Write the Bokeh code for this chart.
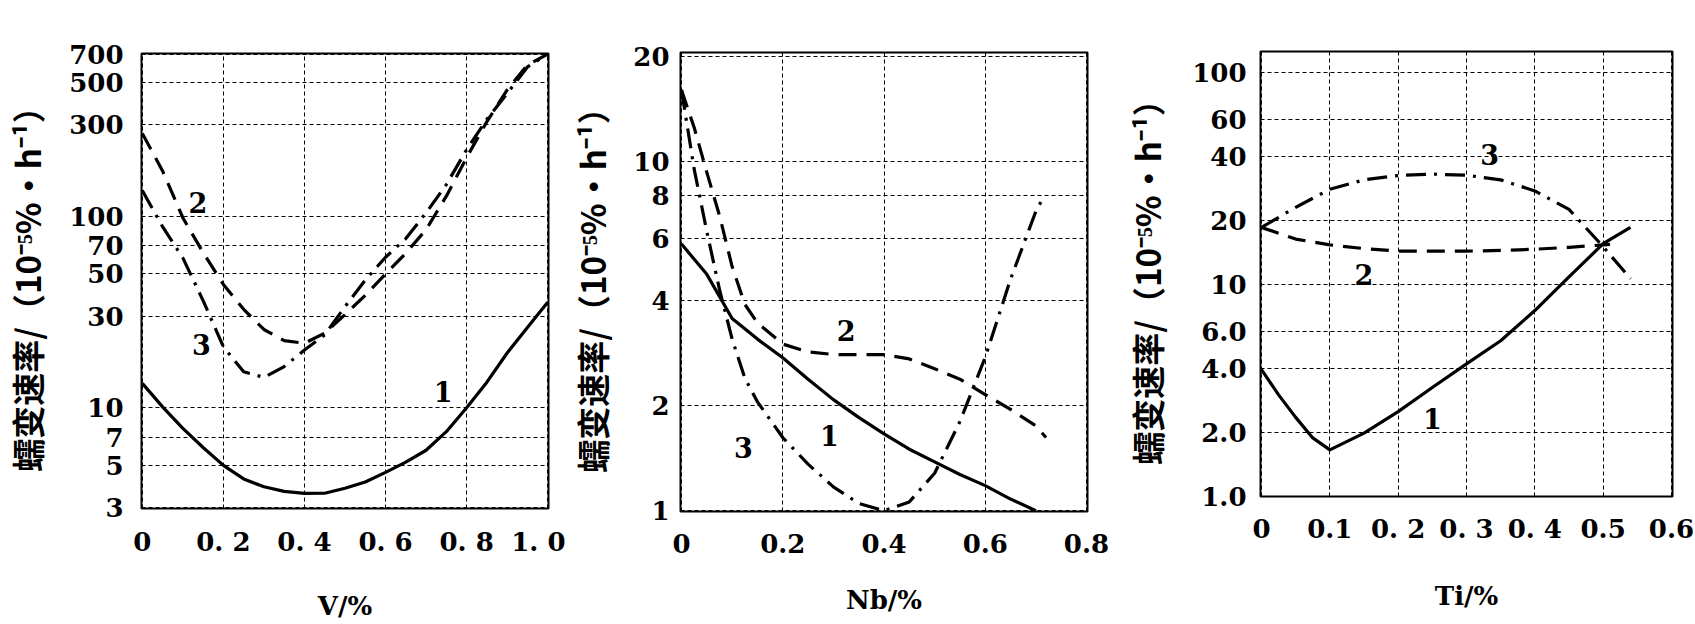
from bokeh.plotting import figure
from bokeh.layouts import row
from bokeh.models import Range1d, FixedTicker
from bokeh.embed import file_html
from bokeh.resources import INLINE
from bokeh.core.properties import value

# ---------------- Panel 1: V ----------------
v_x = [0, 0.05, 0.1, 0.15, 0.2, 0.25, 0.3, 0.35, 0.4, 0.45, 0.5,
       0.55, 0.6, 0.65, 0.7, 0.75, 0.8, 0.85, 0.9, 0.95, 1.0]
v_c1 = [13.4, 10.1, 7.8, 6.2, 5.0, 4.25, 3.87, 3.66, 3.57, 3.58, 3.8,
        4.1, 4.6, 5.2, 6.0, 7.5, 10.0, 13.6, 19.3, 26.2, 35.5]
v_c2 = [270, 172, 98, 64.5, 44, 32.6, 25.6, 22.4, 21.7, 24.5, 30.6,
        38.6, 49.9, 64, 85, 127, 202, 311, 455, 614, 700]
v_c3 = [136, 88, 60.5, 36.2, 20.8, 15.4, 14.4, 16.4, 20, 24, 33.7,
        46.3, 61, 76.3, 104, 146, 222, 320, 436, 600, 700]
v_xticks = [0, 0.2, 0.4, 0.6, 0.8, 1.0]
v_xlabels = ["0", "0. 2", "0. 4", "0. 6", "0. 8", "1. 0"]
v_yticks = [3, 5, 7, 10, 30, 50, 70, 100, 300, 500, 700]
v_ylabels = ["3", "5", "7", "10", "30", "50", "70", "100", "300", "500", "700"]
v_lab_text = ["1", "2", "3"]
v_lab_x = [0.742, 0.137, 0.146]
v_lab_y = [12.2, 117, 21.3]

# ---------------- Panel 2: Nb ----------------
nb_x1 = [0, 0.05, 0.1, 0.15, 0.2, 0.25, 0.3, 0.35, 0.4, 0.45, 0.5, 0.55, 0.6, 0.65, 0.7]
nb_c1 = [5.8, 4.75, 3.55, 3.1, 2.74, 2.38, 2.08, 1.85, 1.66, 1.5, 1.38, 1.27, 1.18, 1.08, 1.0]
nb_x2 = [0, 0.025, 0.05, 0.075, 0.1, 0.125, 0.15, 0.2, 0.25, 0.3, 0.35, 0.4,
         0.45, 0.5, 0.55, 0.6, 0.65, 0.7, 0.72]
nb_c2 = [16, 12.5, 9.3, 7.0, 5.0, 3.9, 3.45, 3.0, 2.85, 2.8, 2.8, 2.8,
         2.72, 2.55, 2.38, 2.15, 1.95, 1.75, 1.62]
nb_x3 = [0, 0.025, 0.05, 0.075, 0.1, 0.125, 0.15, 0.2, 0.25, 0.3, 0.35, 0.4,
         0.45, 0.5, 0.55, 0.6, 0.65, 0.7, 0.715]
nb_c3 = [16, 9.5, 6.3, 4.3, 3.1, 2.4, 2.05, 1.62, 1.36, 1.17, 1.05, 1.0,
         1.06, 1.28, 1.8, 2.75, 4.6, 7.2, 7.9]
nb_xticks = [0, 0.2, 0.4, 0.6, 0.8]
nb_xlabels = ["0", "0.2", "0.4", "0.6", "0.8"]
nb_yticks = [1, 2, 4, 6, 8, 10, 20]
nb_ylabels = ["1", "2", "4", "6", "8", "10", "20"]
nb_lab_text = ["1", "2", "3"]
nb_lab_x = [0.292, 0.325, 0.122]
nb_lab_y = [1.64, 3.27, 1.52]

# ---------------- Panel 3: Ti ----------------
ti_x1 = [0, 0.025, 0.05, 0.075, 0.1, 0.15, 0.2, 0.25, 0.3, 0.35, 0.4, 0.45, 0.5, 0.54]
ti_c1 = [3.95, 3.0, 2.35, 1.88, 1.65, 1.98, 2.5, 3.25, 4.2, 5.4, 7.5, 10.8, 15.5, 18.5]
ti_x2 = [0, 0.05, 0.1, 0.15, 0.2, 0.25, 0.3, 0.35, 0.4, 0.45, 0.5, 0.51]
ti_c2 = [18.5, 16.3, 15.3, 14.7, 14.3, 14.3, 14.3, 14.4, 14.6, 14.9, 15.3, 15.4]
ti_x3 = [0, 0.05, 0.1, 0.15, 0.2, 0.25, 0.3, 0.35, 0.4, 0.45, 0.5, 0.54]
ti_c3 = [18.5, 23, 28, 31, 32.5, 33, 32.6, 31, 27.5, 22.5, 15, 10.6]
ti_xticks = [0, 0.1, 0.2, 0.3, 0.4, 0.5, 0.6]
ti_xlabels = ["0", "0.1", "0. 2", "0. 3", "0. 4", "0.5", "0.6"]
ti_yticks = [1, 2, 4, 6, 10, 20, 40, 60, 100]
ti_ylabels = ["1.0", "2.0", "4.0", "6.0", "10", "20", "40", "60", "100"]
ti_lab_text = ["1", "2", "3"]
ti_lab_x = [0.25, 0.15, 0.334]
ti_lab_y = [2.32, 11.1, 41]

Y_TITLE = "蠕变速率/（10⁻⁵%·h⁻¹）"
NUM_FONT = "DejaVu Serif"
CJK_FONT = "Noto Sans CJK SC"


def panel(width, xr, yr, borders, xticks, xlabels, yticks, ylabels, xtitle,
          series, labs, stand):
    bl, br, bt, bb = borders
    p = figure(width=width, height=624, y_axis_type="log",
               x_range=Range1d(*xr), y_range=Range1d(*yr),
               output_backend="svg", toolbar_location=None,
               min_border_left=bl, min_border_right=br,
               min_border_top=bt, min_border_bottom=bb)
    try:
        p.frame_align = False   # keep each panel's own frame position
    except Exception:
        pass
    p.background_fill_color = "white"
    p.border_fill_color = "white"
    p.outline_line_color = "black"
    p.outline_line_width = 2
    p.outline_line_alpha = 1.0

    p.xaxis.ticker = FixedTicker(ticks=xticks)
    p.yaxis.ticker = FixedTicker(ticks=yticks)
    p.xaxis.major_label_overrides = {t: l for t, l in zip(xticks, xlabels)}
    p.yaxis.major_label_overrides = {t: l for t, l in zip(yticks, ylabels)}
    for ax in (p.xaxis[0], p.yaxis[0]):
        ax.axis_line_color = None
        ax.major_tick_line_color = None
        ax.minor_tick_line_color = None
        ax.major_tick_out = 0
        ax.major_tick_in = 0
        ax.minor_tick_out = 0
        ax.minor_tick_in = 0
        ax.major_label_text_font = NUM_FONT
        ax.major_label_text_font_style = "bold"
        ax.major_label_text_font_size = "26px"
        ax.major_label_text_color = "black"
    p.xaxis.major_label_standoff = stand[0]
    p.yaxis.major_label_standoff = stand[1]

    p.xaxis.axis_label = xtitle
    p.xaxis.axis_label_text_font = NUM_FONT
    p.xaxis.axis_label_text_font_style = "bold"
    p.xaxis.axis_label_text_font_size = "26px"
    p.xaxis.axis_label_text_color = "black"
    p.xaxis.axis_label_standoff = stand[2]

    p.yaxis.axis_label = Y_TITLE
    p.yaxis.axis_label_text_font = CJK_FONT
    p.yaxis.axis_label_text_font_style = "bold"
    p.yaxis.axis_label_text_font_size = "33px"
    p.yaxis.axis_label_text_color = "black"
    p.yaxis.axis_label_standoff = stand[3]

    for g in (p.xgrid[0], p.ygrid[0]):
        g.grid_line_color = "black"
        g.grid_line_width = 1
        g.grid_line_dash = "4 3"
        g.grid_line_alpha = 1.0

    dashes = ["solid", "18 10", "20 8 3 8"]
    for (xs, ys), d in zip(series, dashes):
        p.line(xs, ys, line_color="black", line_width=3.2, line_dash=d,
               line_join="round")

    t, lx, ly = labs
    p.text(x=lx, y=ly, text=t, text_font=value(NUM_FONT),
           text_font_style="bold", text_font_size="27px",
           text_align="center", text_baseline="middle", text_color="black")
    return p


p1 = panel(565, (-0.002, 1.002), (2.98, 705), (134, 17, 53, 116),
           v_xticks, v_xlabels, v_yticks, v_ylabels, "V/%",
           [(v_x, v_c1), (v_x, v_c2), (v_x, v_c3)],
           (v_lab_text, v_lab_x, v_lab_y), (18, 18, 31, 15))
p2 = panel(555, (-0.002, 0.802), (0.995, 20.5), (108, 33, 52, 113),
           nb_xticks, nb_xlabels, nb_yticks, nb_ylabels, "Nb/%",
           [(nb_x1, nb_c1), (nb_x2, nb_c2), (nb_x3, nb_c3)],
           (nb_lab_text, nb_lab_x, nb_lab_y), (22, 11, 29, 14))
p3 = panel(575, (-0.0015, 0.6015), (0.995, 125), (116, 23, 51, 128),
           ti_xticks, ti_xlabels, ti_yticks, ti_ylabels, "Ti/%",
           [(ti_x1, ti_c1), (ti_x2, ti_c2), (ti_x3, ti_c3)],
           (ti_lab_text, ti_lab_x, ti_lab_y), (17, 14, 34, 18))

layout = row(p1, p2, p3, spacing=0)
open("out.html", "w").write(file_html(layout, INLINE))
